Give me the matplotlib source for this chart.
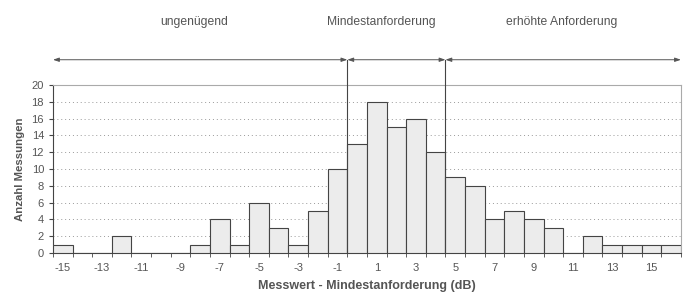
import numpy as np
import matplotlib
matplotlib.use("Agg")
import matplotlib.pyplot as plt
import matplotlib.transforms as mtransforms

# Daten: Abweichung Messwert - Mindestanforderung (dB) und Anzahl Messungen
abweichung = list(range(-15, 17))
anzahl = [1, 0, 0, 2, 0, 0, 0, 1, 4, 1, 6, 3, 1, 5, 10, 13,
          18, 15, 16, 12, 9, 8, 4, 5, 4, 3, 0, 2, 1, 1, 1, 1]
tick_labels = [str(v) for v in range(-15, 17, 2)]
bereiche = ["ungenügend", "Mindestanforderung", "erhöhte Anforderung"]
grenzen = [-0.5, 4.5]

plt.rcParams["font.family"] = ["Liberation Sans", "DejaVu Sans"]
textfarbe = "#555555"

fig = plt.figure(figsize=(6.84, 2.96), dpi=100)
ax = fig.add_axes([0.0775, 0.145, 0.918, 0.568])

ax.bar(abweichung, anzahl, width=1.0, color="#ececec", edgecolor="#444444",
       linewidth=0.8, zorder=3)

xmin, xmax = abweichung[0] - 0.5, abweichung[-1] + 0.5
ax.set_xlim(xmin, xmax)
ax.set_ylim(0, 20)
ax.set_yticks(range(0, 21, 2))
ax.set_xticks(range(-15, 17, 2))
ax.set_xticklabels(tick_labels)
ax.set_xticks(np.arange(xmin, xmax + 0.1, 1.0), minor=True)
ax.tick_params(axis="x", which="major", length=0, pad=7, labelsize=8, colors=textfarbe)
ax.tick_params(axis="x", which="minor", length=3, color="#444444")
ax.tick_params(axis="y", length=3, labelsize=8, colors=textfarbe, color="#444444")

ax.grid(axis="y", linestyle=(0, (1, 3)), color="#999999", linewidth=0.7, zorder=0)
for s in ["top", "right"]:
    ax.spines[s].set_color("#aaaaaa")
    ax.spines[s].set_linewidth(0.8)
for s in ["left", "bottom"]:
    ax.spines[s].set_color("#444444")
    ax.spines[s].set_linewidth(0.8)

ax.set_xlabel("Messwert - Mindestanforderung (dB)", fontsize=9, fontweight="bold",
              color=textfarbe, labelpad=5)
ax.set_ylabel("Anzahl Messungen", fontsize=8.2, fontweight="bold", color=textfarbe, labelpad=5)

# Bereiche oberhalb des Diagramms
trans = mtransforms.blended_transform_factory(ax.transData, ax.transAxes)
y_pfeil = 1.15
punkte = [xmin] + grenzen + [xmax]
for i in range(3):
    ax.annotate("", xy=(punkte[i], y_pfeil), xytext=(punkte[i + 1], y_pfeil),
                xycoords=trans, textcoords=trans, annotation_clip=False,
                arrowprops=dict(arrowstyle="<|-|>,head_length=0.35,head_width=0.12",
                                color="#555555", lw=0.7, shrinkA=0, shrinkB=0))
for g in grenzen:
    ax.plot([g, g], [0, y_pfeil], transform=trans, color="#444444", lw=0.8,
            clip_on=False, zorder=4)

x_text = [-8.3, 1.25, 10.4]
for name, xt in zip(bereiche, x_text):
    ax.text(xt, 1.375, name, transform=trans, ha="center", va="center",
            fontsize=8.7, color=textfarbe)

fig.savefig("out.png", dpi=100)
